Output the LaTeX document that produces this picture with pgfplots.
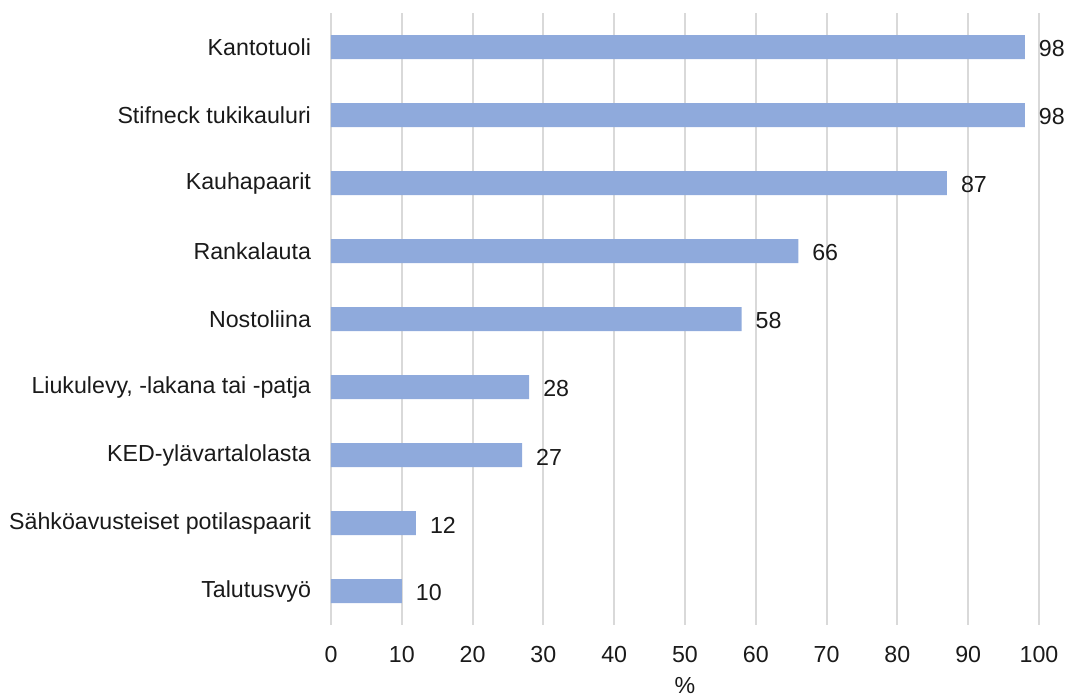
\documentclass[border=0pt]{standalone}
\usepackage{pgfplots}
\pgfplotsset{compat=1.18}
\usepackage{fontspec}
\setmainfont{Liberation Sans}
\definecolor{barblue}{HTML}{8FAADC}
\definecolor{gridgray}{HTML}{D9D9D9}
\definecolor{txt}{HTML}{1A1A1A}
\begin{document}
\begin{tikzpicture}
\begin{axis}[
  scale only axis,
  width=354pt, height=306pt,
  xmin=0, xmax=100,
  ymin=-0.5, ymax=8.5,
  y dir=reverse,
  xbar,
  bar width=12pt,
  axis line style={draw=none},
  xmajorgrids,
  grid style={gridgray, line width=1pt},
  major tick length=0pt,
  xtick={0,10,...,100},
  ytick={0,1,...,8},
  yticklabels={Kantotuoli,Stifneck tukikauluri,Kauhapaarit,Rankalauta,Nostoliina,{Liukulevy, -lakana tai -patja},KED-ylävartalolasta,Sähköavusteiset potilaspaarit,Talutusvyö},
  font=\fontsize{11.6pt}{13pt}\selectfont,
  tick label style={text=txt, font=\fontsize{11.6pt}{13pt}\selectfont},
  yticklabel style={xshift=-6.5pt},
  xticklabel style={yshift=-7pt},
  /pgf/number format/assume math mode=true,
  xlabel={\%},
  xlabel style={text=txt, yshift=-0.5pt},
  nodes near coords,
  nodes near coords style={text=txt, font=\fontsize{11.6pt}{13pt}\selectfont, xshift=3.5pt, yshift=-1pt},
  clip=false,
]
\addplot[fill=barblue, draw=none] coordinates {
(98,0) (98,1) (87,2) (66,3) (58,4) (28,5) (27,6) (12,7) (10,8)
};
\end{axis}
\pgfresetboundingbox
\useasboundingbox (-165.5pt,-37.5pt) rectangle (370pt,312.5pt);
\end{tikzpicture}
\end{document}
